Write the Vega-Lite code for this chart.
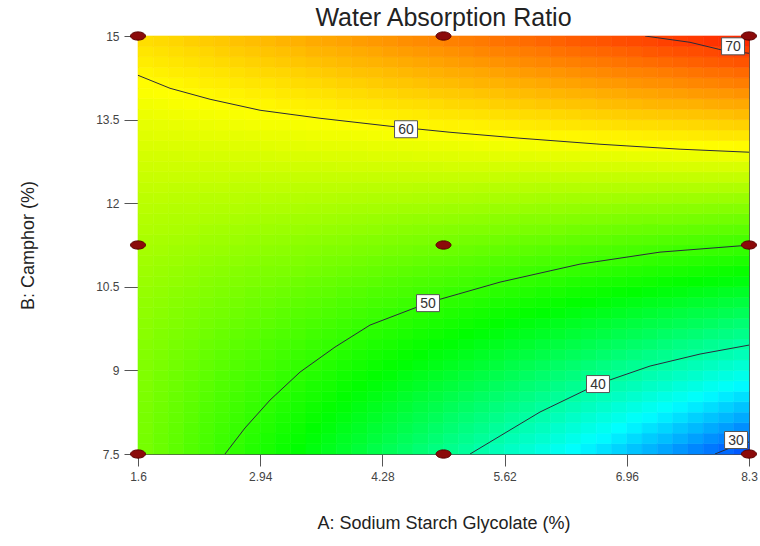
{
  "$schema": "https://vega.github.io/schema/vega-lite/v6.json",
  "width": 611,
  "height": 418,
  "autosize": {"type": "none"},
  "padding": {"left": 138, "top": 36, "right": 11, "bottom": 92},
  "background": "white",
  "title": {"text": "Water Absorption Ratio", "fontSize": 25, "font": "Liberation Sans", "fontWeight": "normal", "color": "#222222", "offset": -1, "anchor": "middle", "frame": "group"},
  "config": {
    "view": {"stroke": "#4a4a4a", "strokeWidth": 1},
    "font": "Liberation Sans"
  },
  "datasets": {
    "grid": [
      {"camphor":7.594,"a0":53.0,"a1":52.4,"a2":51.8,"a3":51.2,"a4":50.6,"a5":50.0,"a6":49.4,"a7":48.8,"a8":48.2,"a9":47.6,"b0":47.0,"b1":46.4,"b2":45.8,"b3":45.2,"b4":44.6,"b5":43.9,"b6":43.3,"b7":42.7,"b8":42.1,"b9":41.5,"c0":40.9,"c1":40.3,"c2":39.7,"c3":39.1,"c4":38.5,"c5":37.9,"c6":37.3,"c7":36.7,"c8":36.1,"c9":35.5,"d0":34.9,"d1":34.3,"d2":33.7,"d3":33.1,"d4":32.5,"d5":31.9,"d6":31.3,"d7":30.7,"d8":30.1,"d9":29.5},
      {"camphor":7.781,"a0":53.0,"a1":52.4,"a2":51.9,"a3":51.3,"a4":50.7,"a5":50.1,"a6":49.6,"a7":49.0,"a8":48.4,"a9":47.8,"b0":47.3,"b1":46.7,"b2":46.1,"b3":45.5,"b4":45.0,"b5":44.4,"b6":43.8,"b7":43.2,"b8":42.7,"b9":42.1,"c0":41.5,"c1":40.9,"c2":40.4,"c3":39.8,"c4":39.2,"c5":38.6,"c6":38.1,"c7":37.5,"c8":36.9,"c9":36.3,"d0":35.8,"d1":35.2,"d2":34.6,"d3":34.0,"d4":33.5,"d5":32.9,"d6":32.3,"d7":31.7,"d8":31.2,"d9":30.6},
      {"camphor":7.969,"a0":53.1,"a1":52.5,"a2":52.0,"a3":51.4,"a4":50.9,"a5":50.3,"a6":49.8,"a7":49.2,"a8":48.7,"a9":48.1,"b0":47.6,"b1":47.0,"b2":46.5,"b3":45.9,"b4":45.4,"b5":44.8,"b6":44.3,"b7":43.7,"b8":43.2,"b9":42.6,"c0":42.1,"c1":41.5,"c2":41.0,"c3":40.4,"c4":39.9,"c5":39.3,"c6":38.8,"c7":38.2,"c8":37.7,"c9":37.1,"d0":36.6,"d1":36.0,"d2":35.5,"d3":34.9,"d4":34.4,"d5":33.8,"d6":33.3,"d7":32.7,"d8":32.2,"d9":31.6},
      {"camphor":8.156,"a0":53.1,"a1":52.6,"a2":52.1,"a3":51.6,"a4":51.0,"a5":50.5,"a6":50.0,"a7":49.5,"a8":48.9,"a9":48.4,"b0":47.9,"b1":47.4,"b2":46.8,"b3":46.3,"b4":45.8,"b5":45.3,"b6":44.7,"b7":44.2,"b8":43.7,"b9":43.2,"c0":42.6,"c1":42.1,"c2":41.6,"c3":41.1,"c4":40.5,"c5":40.0,"c6":39.5,"c7":39.0,"c8":38.4,"c9":37.9,"d0":37.4,"d1":36.9,"d2":36.3,"d3":35.8,"d4":35.3,"d5":34.8,"d6":34.2,"d7":33.7,"d8":33.2,"d9":32.7},
      {"camphor":8.344,"a0":53.2,"a1":52.7,"a2":52.2,"a3":51.7,"a4":51.2,"a5":50.7,"a6":50.2,"a7":49.7,"a8":49.2,"a9":48.7,"b0":48.2,"b1":47.7,"b2":47.2,"b3":46.7,"b4":46.2,"b5":45.7,"b6":45.2,"b7":44.7,"b8":44.2,"b9":43.7,"c0":43.2,"c1":42.7,"c2":42.2,"c3":41.7,"c4":41.2,"c5":40.7,"c6":40.2,"c7":39.7,"c8":39.2,"c9":38.7,"d0":38.2,"d1":37.7,"d2":37.2,"d3":36.7,"d4":36.2,"d5":35.7,"d6":35.2,"d7":34.7,"d8":34.2,"d9":33.7},
      {"camphor":8.531,"a0":53.3,"a1":52.8,"a2":52.3,"a3":51.9,"a4":51.4,"a5":50.9,"a6":50.4,"a7":50.0,"a8":49.5,"a9":49.0,"b0":48.5,"b1":48.1,"b2":47.6,"b3":47.1,"b4":46.6,"b5":46.2,"b6":45.7,"b7":45.2,"b8":44.7,"b9":44.3,"c0":43.8,"c1":43.3,"c2":42.8,"c3":42.4,"c4":41.9,"c5":41.4,"c6":40.9,"c7":40.5,"c8":40.0,"c9":39.5,"d0":39.0,"d1":38.6,"d2":38.1,"d3":37.6,"d4":37.1,"d5":36.7,"d6":36.2,"d7":35.7,"d8":35.2,"d9":34.8},
      {"camphor":8.719,"a0":53.4,"a1":52.9,"a2":52.5,"a3":52.0,"a4":51.6,"a5":51.1,"a6":50.7,"a7":50.2,"a8":49.8,"a9":49.3,"b0":48.9,"b1":48.4,"b2":48.0,"b3":47.5,"b4":47.1,"b5":46.6,"b6":46.2,"b7":45.7,"b8":45.3,"b9":44.8,"c0":44.4,"c1":43.9,"c2":43.5,"c3":43.0,"c4":42.6,"c5":42.1,"c6":41.7,"c7":41.2,"c8":40.8,"c9":40.3,"d0":39.9,"d1":39.4,"d2":39.0,"d3":38.5,"d4":38.1,"d5":37.6,"d6":37.2,"d7":36.7,"d8":36.3,"d9":35.8},
      {"camphor":8.906,"a0":53.5,"a1":53.0,"a2":52.6,"a3":52.2,"a4":51.8,"a5":51.3,"a6":50.9,"a7":50.5,"a8":50.1,"a9":49.6,"b0":49.2,"b1":48.8,"b2":48.4,"b3":47.9,"b4":47.5,"b5":47.1,"b6":46.7,"b7":46.2,"b8":45.8,"b9":45.4,"c0":45.0,"c1":44.5,"c2":44.1,"c3":43.7,"c4":43.3,"c5":42.8,"c6":42.4,"c7":42.0,"c8":41.6,"c9":41.1,"d0":40.7,"d1":40.3,"d2":39.9,"d3":39.4,"d4":39.0,"d5":38.6,"d6":38.2,"d7":37.7,"d8":37.3,"d9":36.9},
      {"camphor":9.094,"a0":53.6,"a1":53.2,"a2":52.8,"a3":52.4,"a4":52.0,"a5":51.6,"a6":51.2,"a7":50.8,"a8":50.4,"a9":50.0,"b0":49.6,"b1":49.2,"b2":48.8,"b3":48.4,"b4":48.0,"b5":47.6,"b6":47.2,"b7":46.8,"b8":46.4,"b9":46.0,"c0":45.6,"c1":45.2,"c2":44.8,"c3":44.4,"c4":43.9,"c5":43.5,"c6":43.1,"c7":42.7,"c8":42.3,"c9":41.9,"d0":41.5,"d1":41.1,"d2":40.7,"d3":40.3,"d4":39.9,"d5":39.5,"d6":39.1,"d7":38.7,"d8":38.3,"d9":37.9},
      {"camphor":9.281,"a0":53.7,"a1":53.3,"a2":52.9,"a3":52.6,"a4":52.2,"a5":51.8,"a6":51.4,"a7":51.1,"a8":50.7,"a9":50.3,"b0":49.9,"b1":49.6,"b2":49.2,"b3":48.8,"b4":48.4,"b5":48.0,"b6":47.7,"b7":47.3,"b8":46.9,"b9":46.5,"c0":46.2,"c1":45.8,"c2":45.4,"c3":45.0,"c4":44.6,"c5":44.3,"c6":43.9,"c7":43.5,"c8":43.1,"c9":42.8,"d0":42.4,"d1":42.0,"d2":41.6,"d3":41.2,"d4":40.9,"d5":40.5,"d6":40.1,"d7":39.7,"d8":39.4,"d9":39.0},
      {"camphor":9.469,"a0":53.8,"a1":53.5,"a2":53.1,"a3":52.8,"a4":52.4,"a5":52.1,"a6":51.7,"a7":51.4,"a8":51.0,"a9":50.6,"b0":50.3,"b1":49.9,"b2":49.6,"b3":49.2,"b4":48.9,"b5":48.5,"b6":48.2,"b7":47.8,"b8":47.5,"b9":47.1,"c0":46.8,"c1":46.4,"c2":46.0,"c3":45.7,"c4":45.3,"c5":45.0,"c6":44.6,"c7":44.3,"c8":43.9,"c9":43.6,"d0":43.2,"d1":42.9,"d2":42.5,"d3":42.2,"d4":41.8,"d5":41.4,"d6":41.1,"d7":40.7,"d8":40.4,"d9":40.0},
      {"camphor":9.656,"a0":54.0,"a1":53.6,"a2":53.3,"a3":53.0,"a4":52.7,"a5":52.3,"a6":52.0,"a7":51.7,"a8":51.3,"a9":51.0,"b0":50.7,"b1":50.3,"b2":50.0,"b3":49.7,"b4":49.3,"b5":49.0,"b6":48.7,"b7":48.4,"b8":48.0,"b9":47.7,"c0":47.4,"c1":47.0,"c2":46.7,"c3":46.4,"c4":46.0,"c5":45.7,"c6":45.4,"c7":45.1,"c8":44.7,"c9":44.4,"d0":44.1,"d1":43.7,"d2":43.4,"d3":43.1,"d4":42.7,"d5":42.4,"d6":42.1,"d7":41.7,"d8":41.4,"d9":41.1},
      {"camphor":9.844,"a0":54.1,"a1":53.8,"a2":53.5,"a3":53.2,"a4":52.9,"a5":52.6,"a6":52.3,"a7":52.0,"a8":51.7,"a9":51.4,"b0":51.0,"b1":50.7,"b2":50.4,"b3":50.1,"b4":49.8,"b5":49.5,"b6":49.2,"b7":48.9,"b8":48.6,"b9":48.3,"c0":48.0,"c1":47.7,"c2":47.4,"c3":47.1,"c4":46.7,"c5":46.4,"c6":46.1,"c7":45.8,"c8":45.5,"c9":45.2,"d0":44.9,"d1":44.6,"d2":44.3,"d3":44.0,"d4":43.7,"d5":43.4,"d6":43.1,"d7":42.8,"d8":42.4,"d9":42.1},
      {"camphor":10.031,"a0":54.3,"a1":54.0,"a2":53.7,"a3":53.4,"a4":53.1,"a5":52.9,"a6":52.6,"a7":52.3,"a8":52.0,"a9":51.7,"b0":51.4,"b1":51.2,"b2":50.9,"b3":50.6,"b4":50.3,"b5":50.0,"b6":49.7,"b7":49.4,"b8":49.2,"b9":48.9,"c0":48.6,"c1":48.3,"c2":48.0,"c3":47.7,"c4":47.5,"c5":47.2,"c6":46.9,"c7":46.6,"c8":46.3,"c9":46.0,"d0":45.8,"d1":45.5,"d2":45.2,"d3":44.9,"d4":44.6,"d5":44.3,"d6":44.0,"d7":43.8,"d8":43.5,"d9":43.2},
      {"camphor":10.219,"a0":54.4,"a1":54.2,"a2":53.9,"a3":53.7,"a4":53.4,"a5":53.1,"a6":52.9,"a7":52.6,"a8":52.4,"a9":52.1,"b0":51.8,"b1":51.6,"b2":51.3,"b3":51.0,"b4":50.8,"b5":50.5,"b6":50.3,"b7":50.0,"b8":49.7,"b9":49.5,"c0":49.2,"c1":49.0,"c2":48.7,"c3":48.4,"c4":48.2,"c5":47.9,"c6":47.7,"c7":47.4,"c8":47.1,"c9":46.9,"d0":46.6,"d1":46.3,"d2":46.1,"d3":45.8,"d4":45.6,"d5":45.3,"d6":45.0,"d7":44.8,"d8":44.5,"d9":44.3},
      {"camphor":10.406,"a0":54.6,"a1":54.4,"a2":54.1,"a3":53.9,"a4":53.7,"a5":53.4,"a6":53.2,"a7":52.9,"a8":52.7,"a9":52.5,"b0":52.2,"b1":52.0,"b2":51.8,"b3":51.5,"b4":51.3,"b5":51.0,"b6":50.8,"b7":50.6,"b8":50.3,"b9":50.1,"c0":49.8,"c1":49.6,"c2":49.4,"c3":49.1,"c4":48.9,"c5":48.7,"c6":48.4,"c7":48.2,"c8":47.9,"c9":47.7,"d0":47.5,"d1":47.2,"d2":47.0,"d3":46.7,"d4":46.5,"d5":46.3,"d6":46.0,"d7":45.8,"d8":45.5,"d9":45.3},
      {"camphor":10.594,"a0":54.8,"a1":54.6,"a2":54.4,"a3":54.2,"a4":53.9,"a5":53.7,"a6":53.5,"a7":53.3,"a8":53.1,"a9":52.9,"b0":52.6,"b1":52.4,"b2":52.2,"b3":52.0,"b4":51.8,"b5":51.6,"b6":51.3,"b7":51.1,"b8":50.9,"b9":50.7,"c0":50.5,"c1":50.3,"c2":50.0,"c3":49.8,"c4":49.6,"c5":49.4,"c6":49.2,"c7":49.0,"c8":48.7,"c9":48.5,"d0":48.3,"d1":48.1,"d2":47.9,"d3":47.7,"d4":47.4,"d5":47.2,"d6":47.0,"d7":46.8,"d8":46.6,"d9":46.4},
      {"camphor":10.781,"a0":55.0,"a1":54.8,"a2":54.6,"a3":54.4,"a4":54.2,"a5":54.0,"a6":53.8,"a7":53.6,"a8":53.4,"a9":53.3,"b0":53.1,"b1":52.9,"b2":52.7,"b3":52.5,"b4":52.3,"b5":52.1,"b6":51.9,"b7":51.7,"b8":51.5,"b9":51.3,"c0":51.1,"c1":50.9,"c2":50.7,"c3":50.5,"c4":50.3,"c5":50.1,"c6":49.9,"c7":49.8,"c8":49.6,"c9":49.4,"d0":49.2,"d1":49.0,"d2":48.8,"d3":48.6,"d4":48.4,"d5":48.2,"d6":48.0,"d7":47.8,"d8":47.6,"d9":47.4},
      {"camphor":10.969,"a0":55.2,"a1":55.0,"a2":54.9,"a3":54.7,"a4":54.5,"a5":54.3,"a6":54.2,"a7":54.0,"a8":53.8,"a9":53.7,"b0":53.5,"b1":53.3,"b2":53.1,"b3":53.0,"b4":52.8,"b5":52.6,"b6":52.4,"b7":52.3,"b8":52.1,"b9":51.9,"c0":51.8,"c1":51.6,"c2":51.4,"c3":51.2,"c4":51.1,"c5":50.9,"c6":50.7,"c7":50.6,"c8":50.4,"c9":50.2,"d0":50.0,"d1":49.9,"d2":49.7,"d3":49.5,"d4":49.3,"d5":49.2,"d6":49.0,"d7":48.8,"d8":48.7,"d9":48.5},
      {"camphor":11.156,"a0":55.4,"a1":55.3,"a2":55.1,"a3":55.0,"a4":54.8,"a5":54.7,"a6":54.5,"a7":54.4,"a8":54.2,"a9":54.1,"b0":53.9,"b1":53.8,"b2":53.6,"b3":53.5,"b4":53.3,"b5":53.2,"b6":53.0,"b7":52.9,"b8":52.7,"b9":52.6,"c0":52.4,"c1":52.3,"c2":52.1,"c3":52.0,"c4":51.8,"c5":51.7,"c6":51.5,"c7":51.3,"c8":51.2,"c9":51.0,"d0":50.9,"d1":50.7,"d2":50.6,"d3":50.4,"d4":50.3,"d5":50.1,"d6":50.0,"d7":49.8,"d8":49.7,"d9":49.5},
      {"camphor":11.344,"a0":55.6,"a1":55.5,"a2":55.4,"a3":55.3,"a4":55.1,"a5":55.0,"a6":54.9,"a7":54.7,"a8":54.6,"a9":54.5,"b0":54.3,"b1":54.2,"b2":54.1,"b3":54.0,"b4":53.8,"b5":53.7,"b6":53.6,"b7":53.4,"b8":53.3,"b9":53.2,"c0":53.1,"c1":52.9,"c2":52.8,"c3":52.7,"c4":52.5,"c5":52.4,"c6":52.3,"c7":52.2,"c8":52.0,"c9":51.9,"d0":51.8,"d1":51.6,"d2":51.5,"d3":51.4,"d4":51.2,"d5":51.1,"d6":51.0,"d7":50.9,"d8":50.7,"d9":50.6},
      {"camphor":11.531,"a0":55.9,"a1":55.8,"a2":55.7,"a3":55.6,"a4":55.4,"a5":55.3,"a6":55.2,"a7":55.1,"a8":55.0,"a9":54.9,"b0":54.8,"b1":54.7,"b2":54.6,"b3":54.5,"b4":54.4,"b5":54.3,"b6":54.1,"b7":54.0,"b8":53.9,"b9":53.8,"c0":53.7,"c1":53.6,"c2":53.5,"c3":53.4,"c4":53.3,"c5":53.2,"c6":53.1,"c7":53.0,"c8":52.8,"c9":52.7,"d0":52.6,"d1":52.5,"d2":52.4,"d3":52.3,"d4":52.2,"d5":52.1,"d6":52.0,"d7":51.9,"d8":51.8,"d9":51.7},
      {"camphor":11.719,"a0":56.1,"a1":56.0,"a2":55.9,"a3":55.9,"a4":55.8,"a5":55.7,"a6":55.6,"a7":55.5,"a8":55.4,"a9":55.3,"b0":55.2,"b1":55.2,"b2":55.1,"b3":55.0,"b4":54.9,"b5":54.8,"b6":54.7,"b7":54.6,"b8":54.5,"b9":54.5,"c0":54.4,"c1":54.3,"c2":54.2,"c3":54.1,"c4":54.0,"c5":53.9,"c6":53.9,"c7":53.8,"c8":53.7,"c9":53.6,"d0":53.5,"d1":53.4,"d2":53.3,"d3":53.2,"d4":53.2,"d5":53.1,"d6":53.0,"d7":52.9,"d8":52.8,"d9":52.7},
      {"camphor":11.906,"a0":56.4,"a1":56.3,"a2":56.2,"a3":56.2,"a4":56.1,"a5":56.0,"a6":56.0,"a7":55.9,"a8":55.8,"a9":55.8,"b0":55.7,"b1":55.6,"b2":55.6,"b3":55.5,"b4":55.4,"b5":55.4,"b6":55.3,"b7":55.2,"b8":55.2,"b9":55.1,"c0":55.0,"c1":55.0,"c2":54.9,"c3":54.8,"c4":54.8,"c5":54.7,"c6":54.6,"c7":54.6,"c8":54.5,"c9":54.4,"d0":54.4,"d1":54.3,"d2":54.2,"d3":54.2,"d4":54.1,"d5":54.0,"d6":54.0,"d7":53.9,"d8":53.8,"d9":53.8},
      {"camphor":12.094,"a0":56.6,"a1":56.6,"a2":56.5,"a3":56.5,"a4":56.4,"a5":56.4,"a6":56.4,"a7":56.3,"a8":56.3,"a9":56.2,"b0":56.2,"b1":56.1,"b2":56.1,"b3":56.0,"b4":56.0,"b5":55.9,"b6":55.9,"b7":55.9,"b8":55.8,"b9":55.8,"c0":55.7,"c1":55.7,"c2":55.6,"c3":55.6,"c4":55.5,"c5":55.5,"c6":55.4,"c7":55.4,"c8":55.3,"c9":55.3,"d0":55.3,"d1":55.2,"d2":55.2,"d3":55.1,"d4":55.1,"d5":55.0,"d6":55.0,"d7":54.9,"d8":54.9,"d9":54.8},
      {"camphor":12.281,"a0":56.9,"a1":56.9,"a2":56.8,"a3":56.8,"a4":56.8,"a5":56.8,"a6":56.7,"a7":56.7,"a8":56.7,"a9":56.7,"b0":56.6,"b1":56.6,"b2":56.6,"b3":56.6,"b4":56.5,"b5":56.5,"b6":56.5,"b7":56.5,"b8":56.4,"b9":56.4,"c0":56.4,"c1":56.4,"c2":56.3,"c3":56.3,"c4":56.3,"c5":56.3,"c6":56.2,"c7":56.2,"c8":56.2,"c9":56.2,"d0":56.1,"d1":56.1,"d2":56.1,"d3":56.1,"d4":56.0,"d5":56.0,"d6":56.0,"d7":56.0,"d8":55.9,"d9":55.9},
      {"camphor":12.469,"a0":57.2,"a1":57.2,"a2":57.2,"a3":57.2,"a4":57.2,"a5":57.2,"a6":57.1,"a7":57.1,"a8":57.1,"a9":57.1,"b0":57.1,"b1":57.1,"b2":57.1,"b3":57.1,"b4":57.1,"b5":57.1,"b6":57.1,"b7":57.1,"b8":57.1,"b9":57.1,"c0":57.1,"c1":57.1,"c2":57.1,"c3":57.1,"c4":57.0,"c5":57.0,"c6":57.0,"c7":57.0,"c8":57.0,"c9":57.0,"d0":57.0,"d1":57.0,"d2":57.0,"d3":57.0,"d4":57.0,"d5":57.0,"d6":57.0,"d7":57.0,"d8":57.0,"d9":57.0},
      {"camphor":12.656,"a0":57.5,"a1":57.5,"a2":57.5,"a3":57.5,"a4":57.5,"a5":57.5,"a6":57.6,"a7":57.6,"a8":57.6,"a9":57.6,"b0":57.6,"b1":57.6,"b2":57.6,"b3":57.7,"b4":57.7,"b5":57.7,"b6":57.7,"b7":57.7,"b8":57.7,"b9":57.7,"c0":57.8,"c1":57.8,"c2":57.8,"c3":57.8,"c4":57.8,"c5":57.8,"c6":57.8,"c7":57.9,"c8":57.9,"c9":57.9,"d0":57.9,"d1":57.9,"d2":57.9,"d3":57.9,"d4":58.0,"d5":58.0,"d6":58.0,"d7":58.0,"d8":58.0,"d9":58.0},
      {"camphor":12.844,"a0":57.8,"a1":57.8,"a2":57.8,"a3":57.9,"a4":57.9,"a5":57.9,"a6":58.0,"a7":58.0,"a8":58.0,"a9":58.1,"b0":58.1,"b1":58.1,"b2":58.2,"b3":58.2,"b4":58.2,"b5":58.3,"b6":58.3,"b7":58.3,"b8":58.4,"b9":58.4,"c0":58.4,"c1":58.5,"c2":58.5,"c3":58.6,"c4":58.6,"c5":58.6,"c6":58.7,"c7":58.7,"c8":58.7,"c9":58.8,"d0":58.8,"d1":58.8,"d2":58.9,"d3":58.9,"d4":58.9,"d5":59.0,"d6":59.0,"d7":59.0,"d8":59.1,"d9":59.1},
      {"camphor":13.031,"a0":58.1,"a1":58.1,"a2":58.2,"a3":58.2,"a4":58.3,"a5":58.3,"a6":58.4,"a7":58.4,"a8":58.5,"a9":58.6,"b0":58.6,"b1":58.7,"b2":58.7,"b3":58.8,"b4":58.8,"b5":58.9,"b6":58.9,"b7":59.0,"b8":59.0,"b9":59.1,"c0":59.1,"c1":59.2,"c2":59.3,"c3":59.3,"c4":59.4,"c5":59.4,"c6":59.5,"c7":59.5,"c8":59.6,"c9":59.6,"d0":59.7,"d1":59.7,"d2":59.8,"d3":59.8,"d4":59.9,"d5":59.9,"d6":60.0,"d7":60.1,"d8":60.1,"d9":60.2},
      {"camphor":13.219,"a0":58.4,"a1":58.5,"a2":58.5,"a3":58.6,"a4":58.7,"a5":58.8,"a6":58.8,"a7":58.9,"a8":59.0,"a9":59.0,"b0":59.1,"b1":59.2,"b2":59.3,"b3":59.3,"b4":59.4,"b5":59.5,"b6":59.6,"b7":59.6,"b8":59.7,"b9":59.8,"c0":59.8,"c1":59.9,"c2":60.0,"c3":60.1,"c4":60.1,"c5":60.2,"c6":60.3,"c7":60.4,"c8":60.4,"c9":60.5,"d0":60.6,"d1":60.6,"d2":60.7,"d3":60.8,"d4":60.9,"d5":60.9,"d6":61.0,"d7":61.1,"d8":61.2,"d9":61.2},
      {"camphor":13.406,"a0":58.7,"a1":58.8,"a2":58.9,"a3":59.0,"a4":59.1,"a5":59.2,"a6":59.3,"a7":59.4,"a8":59.5,"a9":59.5,"b0":59.6,"b1":59.7,"b2":59.8,"b3":59.9,"b4":60.0,"b5":60.1,"b6":60.2,"b7":60.3,"b8":60.4,"b9":60.5,"c0":60.6,"c1":60.6,"c2":60.7,"c3":60.8,"c4":60.9,"c5":61.0,"c6":61.1,"c7":61.2,"c8":61.3,"c9":61.4,"d0":61.5,"d1":61.6,"d2":61.7,"d3":61.7,"d4":61.8,"d5":61.9,"d6":62.0,"d7":62.1,"d8":62.2,"d9":62.3},
      {"camphor":13.594,"a0":59.1,"a1":59.2,"a2":59.3,"a3":59.4,"a4":59.5,"a5":59.6,"a6":59.7,"a7":59.8,"a8":59.9,"a9":60.0,"b0":60.2,"b1":60.3,"b2":60.4,"b3":60.5,"b4":60.6,"b5":60.7,"b6":60.8,"b7":60.9,"b8":61.0,"b9":61.2,"c0":61.3,"c1":61.4,"c2":61.5,"c3":61.6,"c4":61.7,"c5":61.8,"c6":61.9,"c7":62.0,"c8":62.1,"c9":62.3,"d0":62.4,"d1":62.5,"d2":62.6,"d3":62.7,"d4":62.8,"d5":62.9,"d6":63.0,"d7":63.1,"d8":63.2,"d9":63.4},
      {"camphor":13.781,"a0":59.4,"a1":59.5,"a2":59.7,"a3":59.8,"a4":59.9,"a5":60.0,"a6":60.2,"a7":60.3,"a8":60.4,"a9":60.6,"b0":60.7,"b1":60.8,"b2":60.9,"b3":61.1,"b4":61.2,"b5":61.3,"b6":61.5,"b7":61.6,"b8":61.7,"b9":61.8,"c0":62.0,"c1":62.1,"c2":62.2,"c3":62.4,"c4":62.5,"c5":62.6,"c6":62.8,"c7":62.9,"c8":63.0,"c9":63.1,"d0":63.3,"d1":63.4,"d2":63.5,"d3":63.7,"d4":63.8,"d5":63.9,"d6":64.0,"d7":64.2,"d8":64.3,"d9":64.4},
      {"camphor":13.969,"a0":59.8,"a1":59.9,"a2":60.0,"a3":60.2,"a4":60.3,"a5":60.5,"a6":60.6,"a7":60.8,"a8":60.9,"a9":61.1,"b0":61.2,"b1":61.4,"b2":61.5,"b3":61.7,"b4":61.8,"b5":62.0,"b6":62.1,"b7":62.3,"b8":62.4,"b9":62.6,"c0":62.7,"c1":62.8,"c2":63.0,"c3":63.1,"c4":63.3,"c5":63.4,"c6":63.6,"c7":63.7,"c8":63.9,"c9":64.0,"d0":64.2,"d1":64.3,"d2":64.5,"d3":64.6,"d4":64.8,"d5":64.9,"d6":65.1,"d7":65.2,"d8":65.3,"d9":65.5},
      {"camphor":14.156,"a0":60.1,"a1":60.3,"a2":60.4,"a3":60.6,"a4":60.8,"a5":60.9,"a6":61.1,"a7":61.3,"a8":61.4,"a9":61.6,"b0":61.8,"b1":61.9,"b2":62.1,"b3":62.3,"b4":62.4,"b5":62.6,"b6":62.8,"b7":62.9,"b8":63.1,"b9":63.3,"c0":63.4,"c1":63.6,"c2":63.8,"c3":63.9,"c4":64.1,"c5":64.2,"c6":64.4,"c7":64.6,"c8":64.7,"c9":64.9,"d0":65.1,"d1":65.2,"d2":65.4,"d3":65.6,"d4":65.7,"d5":65.9,"d6":66.1,"d7":66.2,"d8":66.4,"d9":66.6},
      {"camphor":14.344,"a0":60.5,"a1":60.7,"a2":60.9,"a3":61.0,"a4":61.2,"a5":61.4,"a6":61.6,"a7":61.8,"a8":62.0,"a9":62.1,"b0":62.3,"b1":62.5,"b2":62.7,"b3":62.9,"b4":63.1,"b5":63.2,"b6":63.4,"b7":63.6,"b8":63.8,"b9":64.0,"c0":64.2,"c1":64.3,"c2":64.5,"c3":64.7,"c4":64.9,"c5":65.1,"c6":65.3,"c7":65.4,"c8":65.6,"c9":65.8,"d0":66.0,"d1":66.2,"d2":66.3,"d3":66.5,"d4":66.7,"d5":66.9,"d6":67.1,"d7":67.3,"d8":67.4,"d9":67.6},
      {"camphor":14.531,"a0":60.9,"a1":61.1,"a2":61.3,"a3":61.5,"a4":61.7,"a5":61.9,"a6":62.1,"a7":62.3,"a8":62.5,"a9":62.7,"b0":62.9,"b1":63.1,"b2":63.3,"b3":63.5,"b4":63.7,"b5":63.9,"b6":64.1,"b7":64.3,"b8":64.5,"b9":64.7,"c0":64.9,"c1":65.1,"c2":65.3,"c3":65.5,"c4":65.7,"c5":65.9,"c6":66.1,"c7":66.3,"c8":66.5,"c9":66.7,"d0":66.9,"d1":67.1,"d2":67.3,"d3":67.5,"d4":67.7,"d5":67.9,"d6":68.1,"d7":68.3,"d8":68.5,"d9":68.7},
      {"camphor":14.719,"a0":61.3,"a1":61.5,"a2":61.7,"a3":61.9,"a4":62.1,"a5":62.4,"a6":62.6,"a7":62.8,"a8":63.0,"a9":63.2,"b0":63.4,"b1":63.7,"b2":63.9,"b3":64.1,"b4":64.3,"b5":64.5,"b6":64.8,"b7":65.0,"b8":65.2,"b9":65.4,"c0":65.6,"c1":65.8,"c2":66.1,"c3":66.3,"c4":66.5,"c5":66.7,"c6":66.9,"c7":67.2,"c8":67.4,"c9":67.6,"d0":67.8,"d1":68.0,"d2":68.2,"d3":68.5,"d4":68.7,"d5":68.9,"d6":69.1,"d7":69.3,"d8":69.6,"d9":69.8},
      {"camphor":14.906,"a0":61.7,"a1":61.9,"a2":62.1,"a3":62.4,"a4":62.6,"a5":62.8,"a6":63.1,"a7":63.3,"a8":63.5,"a9":63.8,"b0":64.0,"b1":64.3,"b2":64.5,"b3":64.7,"b4":65.0,"b5":65.2,"b6":65.4,"b7":65.7,"b8":65.9,"b9":66.1,"c0":66.4,"c1":66.6,"c2":66.8,"c3":67.1,"c4":67.3,"c5":67.5,"c6":67.8,"c7":68.0,"c8":68.3,"c9":68.5,"d0":68.7,"d1":69.0,"d2":69.2,"d3":69.4,"d4":69.7,"d5":69.9,"d6":70.1,"d7":70.4,"d8":70.6,"d9":70.8}
    ],
    "contours": [
      {"level":"70","k":0,"ssg":7.16,"camphor":15.0},
      {"level":"70","k":1,"ssg":7.653,"camphor":14.887},
      {"level":"70","k":2,"ssg":8.015,"camphor":14.744},
      {"level":"70","k":3,"ssg":8.3,"camphor":14.69},
      {"level":"60","k":0,"ssg":1.6,"camphor":14.295},
      {"level":"60","k":1,"ssg":1.951,"camphor":14.062},
      {"level":"60","k":2,"ssg":2.39,"camphor":13.865},
      {"level":"60","k":3,"ssg":2.938,"camphor":13.668},
      {"level":"60","k":4,"ssg":3.596,"camphor":13.524},
      {"level":"60","k":5,"ssg":4.363,"camphor":13.381},
      {"level":"60","k":6,"ssg":5.021,"camphor":13.273},
      {"level":"60","k":7,"ssg":5.789,"camphor":13.166},
      {"level":"60","k":8,"ssg":6.666,"camphor":13.058},
      {"level":"60","k":9,"ssg":7.544,"camphor":12.969},
      {"level":"60","k":10,"ssg":8.3,"camphor":12.915},
      {"level":"50","k":0,"ssg":2.554,"camphor":7.5},
      {"level":"50","k":1,"ssg":2.773,"camphor":7.966},
      {"level":"50","k":2,"ssg":3.048,"camphor":8.468},
      {"level":"50","k":3,"ssg":3.377,"camphor":8.97},
      {"level":"50","k":4,"ssg":3.76,"camphor":9.418},
      {"level":"50","k":5,"ssg":4.144,"camphor":9.813},
      {"level":"50","k":6,"ssg":4.802,"camphor":10.225},
      {"level":"50","k":7,"ssg":5.57,"camphor":10.584},
      {"level":"50","k":8,"ssg":6.447,"camphor":10.907},
      {"level":"50","k":9,"ssg":7.324,"camphor":11.122},
      {"level":"50","k":10,"ssg":8.3,"camphor":11.247},
      {"level":"40","k":0,"ssg":5.241,"camphor":7.5},
      {"level":"40","k":1,"ssg":5.57,"camphor":7.823},
      {"level":"40","k":2,"ssg":6.008,"camphor":8.253},
      {"level":"40","k":3,"ssg":6.644,"camphor":8.755},
      {"level":"40","k":4,"ssg":7.215,"camphor":9.078},
      {"level":"40","k":5,"ssg":7.763,"camphor":9.293},
      {"level":"40","k":6,"ssg":8.3,"camphor":9.454},
      {"level":"30","k":0,"ssg":7.927,"camphor":7.5},
      {"level":"30","k":1,"ssg":8.092,"camphor":7.608},
      {"level":"30","k":2,"ssg":8.3,"camphor":7.715}
    ],
    "labels": [
      {"level":"70","ssg":8.125,"camphor":14.815},
      {"level":"60","ssg":4.539,"camphor":13.327},
      {"level":"50","ssg":4.78,"camphor":10.207},
      {"level":"40","ssg":6.644,"camphor":8.755},
      {"level":"30","ssg":8.158,"camphor":7.751}
    ],
    "design": [
      {"ssg":1.6,"camphor":7.5},{"ssg":4.95,"camphor":7.5},{"ssg":8.3,"camphor":7.5},
      {"ssg":1.6,"camphor":11.25},{"ssg":4.95,"camphor":11.25},{"ssg":8.3,"camphor":11.25},
      {"ssg":1.6,"camphor":15},{"ssg":4.95,"camphor":15},{"ssg":8.3,"camphor":15}
    ]
  },
  "layer": [
    {
      "data": {"name": "grid"},
      "transform": [{"fold": ["a0","a1","a2","a3","a4","a5","a6","a7","a8","a9","b0","b1","b2","b3","b4","b5","b6","b7","b8","b9","c0","c1","c2","c3","c4","c5","c6","c7","c8","c9","d0","d1","d2","d3","d4","d5","d6","d7","d8","d9"], "as": ["col", "ratio"]}],
      "mark": {"type": "rect", "strokeWidth": 0.6},
      "encoding": {
        "x": {"field": "col", "type": "ordinal", "axis": null, "scale": {"paddingInner": 0, "paddingOuter": 0}},
        "y": {"field": "camphor", "type": "ordinal", "axis": null, "sort": "descending", "scale": {"paddingInner": 0, "paddingOuter": 0}},
        "color": {"field": "ratio", "type": "quantitative", "legend": null, "scale": {"type": "linear", "domain": [26, 36, 47, 60, 73], "range": ["#0000ff", "#00ffff", "#00ff00", "#ffff00", "#ff0000"], "interpolate": "rgb", "clamp": true}},
        "stroke": {"field": "ratio", "type": "quantitative", "legend": null, "scale": {"type": "linear", "domain": [26, 36, 47, 60, 73], "range": ["#0000ff", "#00ffff", "#00ff00", "#ffff00", "#ff0000"], "interpolate": "rgb", "clamp": true}}
      }
    },
    {
      "encoding": {
        "x": {"field": "ssg", "type": "quantitative", "scale": {"domain": [1.6, 8.3], "nice": false, "zero": false},
          "axis": {"orient": "bottom", "title": "A: Sodium Starch Glycolate (%)", "values": [1.6, 2.94, 4.28, 5.62, 6.96, 8.3], "format": ".3~g", "grid": false, "domain": false, "tickSize": 12, "tickColor": "#555555", "labelColor": "#444444", "labelFontSize": 12, "labelPadding": 5, "labelFlush": false, "labelOverlap": false, "titleFontSize": 18, "titleFontWeight": "normal", "titleColor": "#222222", "titlePadding": 32}},
        "y": {"field": "camphor", "type": "quantitative", "scale": {"domain": [7.5, 15], "nice": false, "zero": false},
          "axis": {"orient": "left", "title": "B: Camphor (%)", "values": [7.5, 9, 10.5, 12, 13.5, 15], "format": ".3~g", "grid": false, "domain": false, "tickSize": 14, "tickColor": "#555555", "labelColor": "#444444", "labelFontSize": 12, "labelPadding": 5, "labelFlush": false, "labelOverlap": false, "titleFontSize": 18, "titleFontWeight": "normal", "titleColor": "#222222", "titlePadding": 58}}
      },
      "layer": [
        {
          "data": {"name": "contours"},
          "mark": {"type": "line", "color": "#2b2b3b", "strokeWidth": 1, "clip": true},
          "encoding": {"detail": {"field": "level"}, "order": {"field": "k", "type": "quantitative"}}
        },
        {
          "data": {"name": "labels"},
          "mark": {"type": "point", "shape": "M-1.35,-1H1.35V1H-1.35Z", "size": 289, "filled": true, "fill": "white", "fillOpacity": 1, "stroke": "#555555", "strokeWidth": 1, "opacity": 1},
          "encoding": {}
        },
        {
          "data": {"name": "labels"},
          "mark": {"type": "text", "fontSize": 14, "color": "#333333", "align": "center", "baseline": "middle", "dy": 1},
          "encoding": {"text": {"field": "level"}}
        },
        {
          "data": {"name": "design"},
          "mark": {"type": "point", "shape": "M-1,0A1,0.55 0 1,1 1,0A1,0.55 0 1,1 -1,0Z", "size": 225, "filled": true, "fill": "#8b0a0a", "stroke": "#5a0000", "strokeWidth": 1, "opacity": 1},
          "encoding": {}
        }
      ]
    }
  ],
  "resolve": {"scale": {"x": "independent", "y": "independent"}}
}
